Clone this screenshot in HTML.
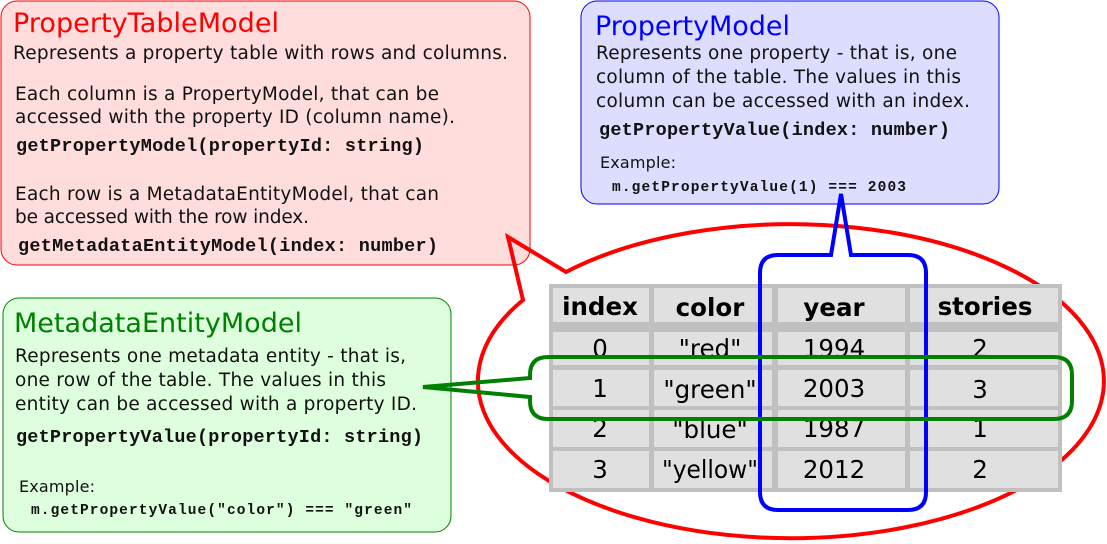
<!DOCTYPE html>
<html><head><meta charset="utf-8"><style>
html,body{margin:0;padding:0;background:#fff;width:1107px;height:544px;overflow:hidden}
svg{display:block}
.t{font-family:"DejaVu Sans","Liberation Sans",sans-serif}
.c{font-family:"Liberation Mono","DejaVu Sans Mono",monospace;font-weight:bold}
</style></head><body>
<svg width="1107" height="544" viewBox="0 0 1107 544" xmlns="http://www.w3.org/2000/svg">
<rect x="1" y="1" width="529" height="264" rx="16" fill="#ffdddd" stroke="#ff0000" stroke-width="1"/>
<text class="t" x="13" y="32" font-size="27" fill="#ff0000" textLength="266">PropertyTableModel</text>
<g class="t" font-size="18.5" fill="#111">
<text x="13" y="59" textLength="495">Represents a property table with rows and columns.</text>
<text x="15" y="100" textLength="424">Each column is a PropertyModel, that can be</text>
<text x="15" y="123" textLength="440">accessed with the property ID (column name).</text>
<text x="15" y="200" textLength="424">Each row is a MetadataEntityModel, that can</text>
<text x="15" y="223" textLength="294">be accessed with the row index.</text>
</g>
<g class="c" font-size="18.5" fill="#111">
<text x="16" y="151" textLength="408">getPropertyModel(propertyId: string)</text>
<text x="18" y="251" textLength="420">getMetadataEntityModel(index: number)</text>
</g>

<rect x="581" y="1" width="418" height="203" rx="16" fill="#ddddff" stroke="#0000ff" stroke-width="1"/>
<text class="t" x="595" y="35" font-size="27" fill="#0000ff" textLength="195">PropertyModel</text>
<g class="t" font-size="18.5" fill="#111">
<text x="596" y="59" textLength="361">Represents one property - that is, one</text>
<text x="596" y="83" textLength="365">column of the table. The values in this</text>
<text x="596" y="107" textLength="374">column can be accessed with an index.</text>
<text x="600" y="168" font-size="16" textLength="76">Example:</text>
</g>
<g class="c" fill="#111">
<text x="599" y="135" font-size="18.5" textLength="351">getPropertyValue(index: number)</text>
<text x="612" y="191" font-size="14.5" textLength="294">m.getPropertyValue(1) === 2003</text>
</g>

<rect x="3" y="298" width="448" height="234" rx="16" fill="#ddffdd" stroke="#008000" stroke-width="1"/>
<text class="t" x="14" y="332" font-size="27" fill="#008000" textLength="288">MetadataEntityModel</text>
<g class="t" font-size="18.5" fill="#111">
<text x="15" y="362" textLength="391">Represents one metadata entity - that is,</text>
<text x="15" y="386" textLength="371">one row of the table. The values in this</text>
<text x="15" y="410" textLength="402">entity can be accessed with a property ID.</text>
<text x="19" y="492" font-size="16" textLength="76">Example:</text>
</g>
<g class="c" fill="#111">
<text x="16" y="442" font-size="18.5" textLength="407">getPropertyValue(propertyId: string)</text>
<text x="31" y="514" font-size="14.5" textLength="381">m.getPropertyValue("color") === "green"</text>
</g>

<path d="M566,272 A313,157 0 1 1 523,300 L508,237 Z" fill="none" stroke="#ff0000" stroke-width="4" stroke-linejoin="miter"/>

<rect x="549" y="284" width="513" height="208" fill="#c0c0c0"/>
<g fill="#e0e0e0">
<rect x="553" y="288" width="96" height="34"/><rect x="654" y="288" width="118" height="34"/><rect x="778" y="288" width="127" height="34"/><rect x="910" y="288" width="148" height="34"/>
<rect x="553" y="332" width="96" height="33"/><rect x="654" y="332" width="118" height="33"/><rect x="778" y="332" width="127" height="33"/><rect x="910" y="332" width="148" height="33"/>
<rect x="553" y="370" width="96" height="36"/><rect x="654" y="370" width="118" height="36"/><rect x="778" y="370" width="127" height="36"/><rect x="910" y="370" width="148" height="36"/>
<rect x="553" y="410" width="96" height="37"/><rect x="654" y="410" width="118" height="37"/><rect x="778" y="410" width="127" height="37"/><rect x="910" y="410" width="148" height="37"/>
<rect x="553" y="451" width="96" height="37"/><rect x="654" y="451" width="118" height="37"/><rect x="778" y="451" width="127" height="37"/><rect x="910" y="451" width="148" height="37"/>
</g>
<g class="t" font-size="24.5" fill="#000" text-anchor="middle">
<g font-weight="bold">
<text x="600" y="315">index</text><text x="710" y="316">color</text><text x="834" y="316">year</text><text x="985" y="315">stories</text>
</g>
<text x="600" y="357">0</text><text x="710" y="357">"red"</text><text x="834" y="357">1994</text><text x="980" y="357">2</text>
<text x="600" y="397">1</text><text x="710" y="398">"green"</text><text x="834" y="397">2003</text><text x="980" y="398">3</text>
<text x="600" y="437">2</text><text x="710" y="438">"blue"</text><text x="834" y="437">1987</text><text x="980" y="437">1</text>
<text x="600" y="478">3</text><text x="710" y="478" textLength="96" lengthAdjust="spacingAndGlyphs">"yellow"</text><text x="834" y="478">2012</text><text x="980" y="478">2</text>
</g>

<path d="M831,255 L841,194 L851,255 L908,255 Q926,255 926,273 L926,492 Q926,510 908,510 L778,510 Q760,510 760,492 L760,273 Q760,255 778,255 Z" fill="none" stroke="#0000ff" stroke-width="4"/>

<path d="M530,378 L423,387 L530,397 L530,401 Q530,419 548,419 L1054,419 Q1072,419 1072,401 L1072,375 Q1072,357 1054,357 L548,357 Q530,357 530,375 Z" fill="none" stroke="#008000" stroke-width="4"/>
</svg>
</body></html>
